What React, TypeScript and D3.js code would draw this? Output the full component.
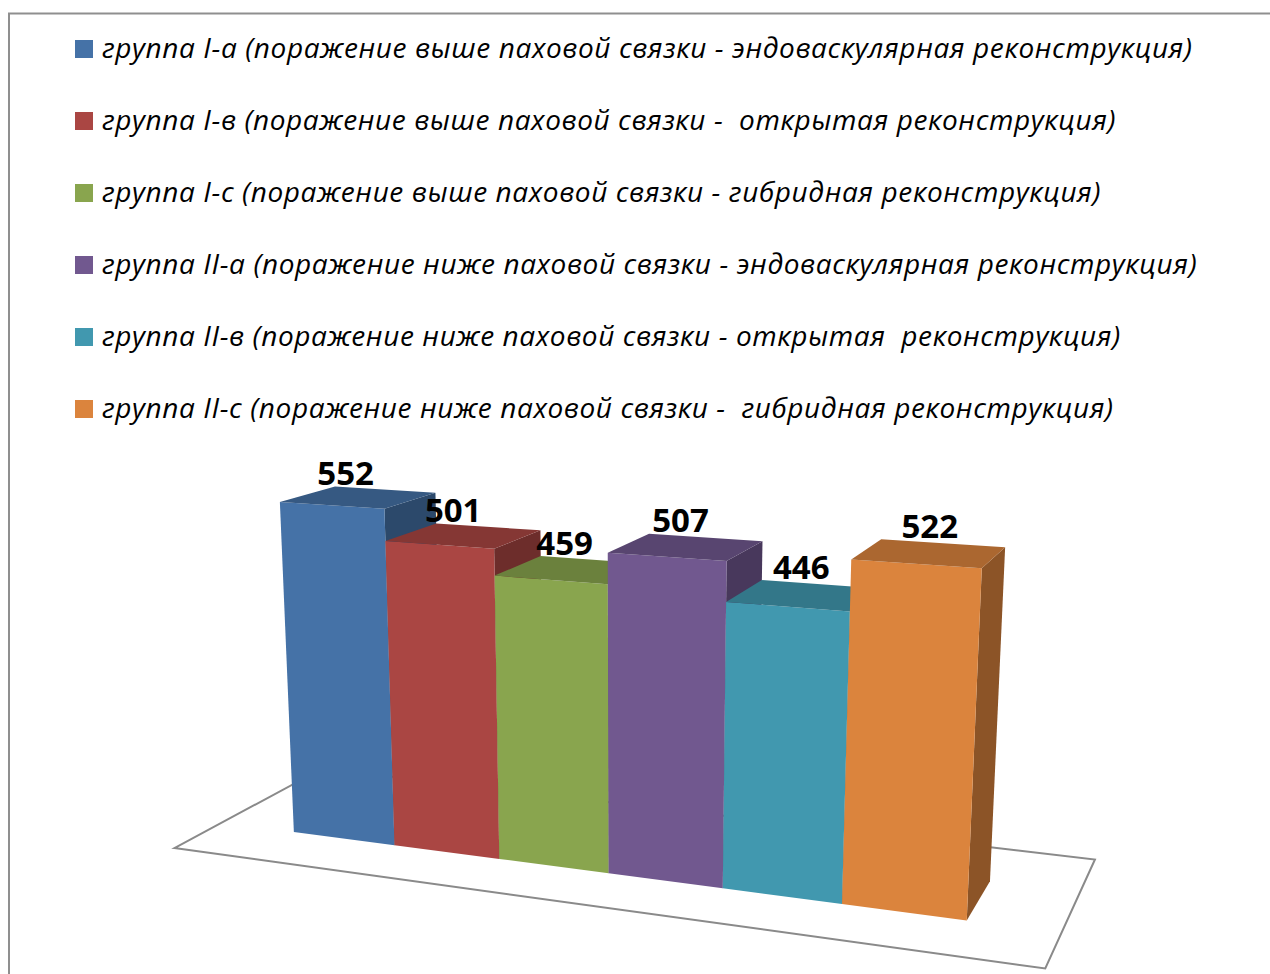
import React from "react";
import * as d3 from "d3";

// ---------- data ----------
const categories: string[] = [
  "группа I-а (поражение выше паховой связки - эндоваскулярная реконструкция)",
  "группа I-в (поражение выше паховой связки -  открытая реконструкция)",
  "группа I-с (поражение выше паховой связки - гибридная реконструкция)",
  "группа II-а (поражение ниже паховой связки - эндоваскулярная реконструкция)",
  "группа II-в (поражение ниже паховой связки - открытая  реконструкция)",
  "группа II-с (поражение ниже паховой связки -  гибридная реконструкция)",
];
const values: number[] = [552, 501, 459, 507, 446, 522];
const colors: string[] = ["#4572A7", "#AA4643", "#89A54E", "#71588F", "#4198AF", "#DB843D"];

// ---------- layout / camera ----------
const W = 1270;
const H = 974;
const YAW = (21 * Math.PI) / 180;
const PITCH = (13.5 * Math.PI) / 180;
const FOCAL = 1950;
const PX = 631;
const PY = 657;
const CAM_POS = [8.679, 5.54, -14.275];
const BAR_DEPTH = 0.945;
const FLOOR = { x0: -0.74, x1: 6.73, z0: -0.75, z1: 1.8 };

const cy = Math.cos(YAW), sy = Math.sin(YAW), cp = Math.cos(PITCH), sp = Math.sin(PITCH);
const R1 = [cy, 0, sy];
const R2 = [-sy * sp, cp, cy * sp];
const R3 = [-sy * cp, -sp, cy * cp];

function project(X: number, Y: number, Z: number): [number, number] {
  const d = [X - CAM_POS[0], Y - CAM_POS[1], Z - CAM_POS[2]];
  const xc = R1[0] * d[0] + R1[1] * d[1] + R1[2] * d[2];
  const yc = R2[0] * d[0] + R2[1] * d[1] + R2[2] * d[2];
  const zc = R3[0] * d[0] + R3[1] * d[1] + R3[2] * d[2];
  return [PX + (FOCAL * xc) / zc, PY - (FOCAL * yc) / zc];
}

function shade(c: string, k: number): string {
  const r = d3.rgb(c);
  return d3.rgb(r.r * k, r.g * k, r.b * k).formatHex();
}

const xScale = d3.scaleBand<string>().domain(categories).range([0, 6]).paddingInner(0).paddingOuter(0);
const yScale = d3.scaleLinear().domain([0, 600]).range([0, 3.2064]);

const line = d3.line<[number, number]>().curve(d3.curveLinearClosed);

function poly(pts: number[][]): string {
  return line(pts.map((p) => project(p[0], p[1], p[2]))) as string;
}

export default function App() {
  const bw = xScale.bandwidth();
  const floorPath = poly([
    [FLOOR.x0, 0, FLOOR.z0],
    [FLOOR.x1, 0, FLOOR.z0],
    [FLOOR.x1, 0, FLOOR.z1],
    [FLOOR.x0, 0, FLOOR.z1],
  ]);

  const legendY0 = 49;
  const legendStep = 72;

  return (
    <svg
      width={W}
      height={H}
      viewBox={`0 0 ${W} ${H}`}
      style={{ position: "absolute", left: 0, top: 0, background: "#fff" }}
    >
      <rect x={0} y={0} width={W} height={H} fill="#fff" />
      <path d={`M9 ${H} V13.5 H${W}`} fill="none" stroke="#8f8f8f" strokeWidth={2} />

      {/* legend */}
      {categories.map((c, i) => (
        <g key={c} transform={`translate(0, ${legendY0 + i * legendStep})`}>
          <rect x={75} y={-9} width={18} height={18} fill={colors[i]} />
          <text
            x={102}
            y={9}
            fontFamily="'Open Sans', 'Noto Sans', sans-serif"
            fontStyle="italic"
            fontSize={28}
            letterSpacing={0.6}
            fill="#000"
            style={{ whiteSpace: "pre" }}
          >
            {c}
          </text>
        </g>
      ))}

      {/* floor */}
      <path d={floorPath} fill="#fff" stroke="#8a8a8a" strokeWidth={2} />

      {/* bars */}
      {categories.map((c, i) => {
        const x0 = xScale(c) as number;
        const x1 = x0 + bw;
        const h = yScale(values[i]);
        const d = BAR_DEPTH;
        return (
          <g key={"bar" + i}>
            <path d={poly([[x1, 0, 0], [x1, 0, d], [x1, h, d], [x1, h, 0]])} fill={shade(colors[i], 0.64)} />
            <path d={poly([[x0, 0, 0], [x1, 0, 0], [x1, h, 0], [x0, h, 0]])} fill={colors[i]} />
            <path d={poly([[x0, h, 0], [x1, h, 0], [x1, h, d], [x0, h, d]])} fill={shade(colors[i], 0.78)} />
          </g>
        );
      })}

      {/* labels */}
      {categories.map((c, i) => {
        const xm = (xScale(c) as number) + bw / 2;
        const h = yScale(values[i]);
        const u = project(xm, h, 0)[0] + 14;
        const v = project(xm, h, BAR_DEPTH)[1] - 5;
        return (
          <text
            key={"lab" + i}
            x={u}
            y={v}
            textAnchor="middle"
            fontFamily="'Open Sans', 'Noto Sans', sans-serif"
            fontWeight={700}
            fontSize={33}
            fill="#000"
          >
            {values[i]}
          </text>
        );
      })}
    </svg>
  );
}
